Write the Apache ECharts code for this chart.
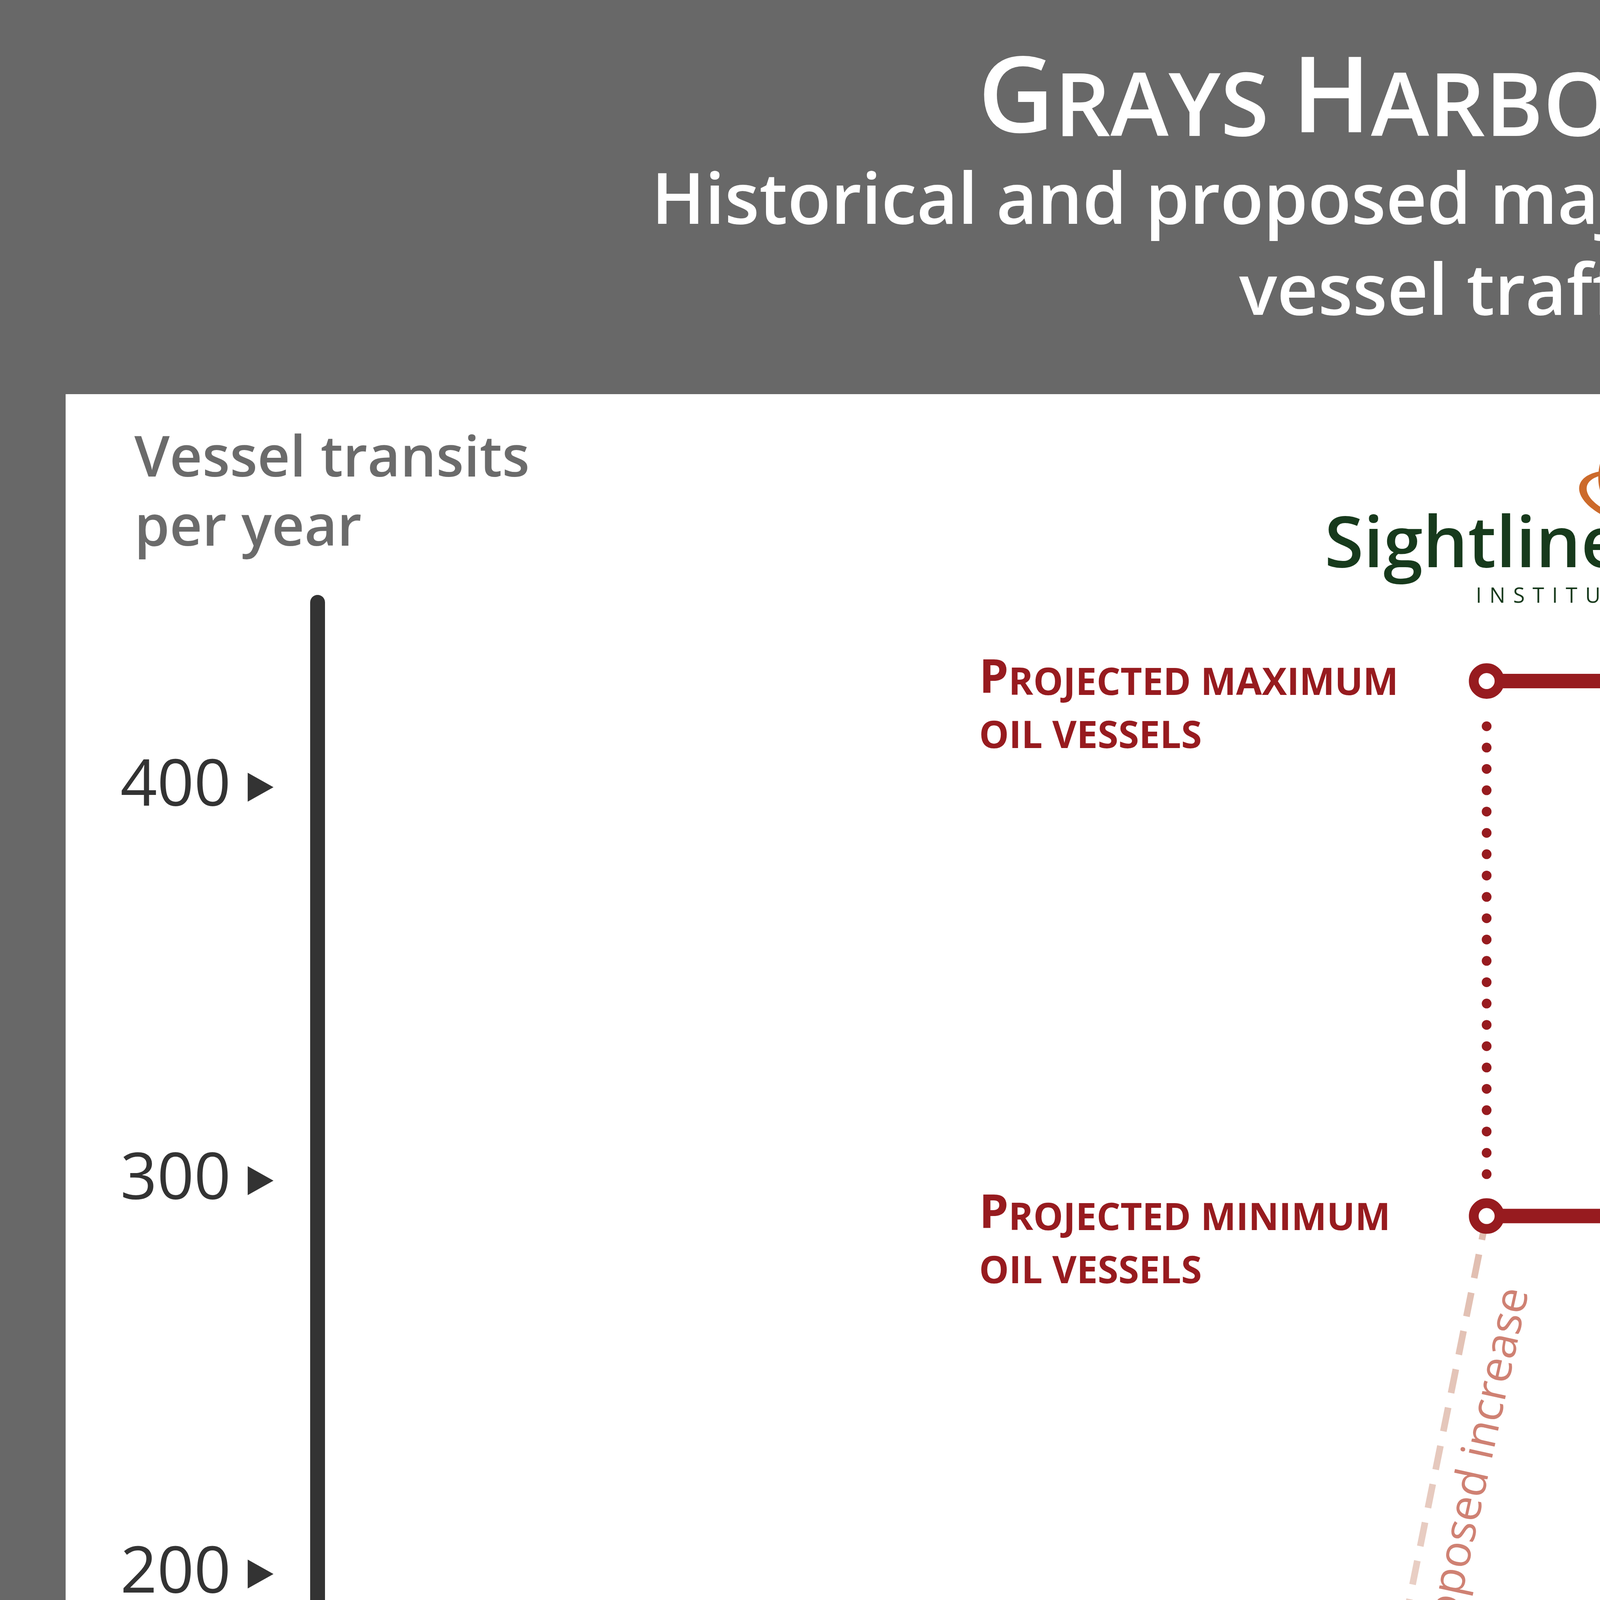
<!DOCTYPE html>
<html>
<head>
<meta charset="UTF-8">
<title>Grays Harbor vessel traffic</title>
<script src="https://cdn.jsdelivr.net/npm/echarts@6/dist/echarts.min.js"></script>
<style>
  html, body { margin: 0; padding: 0; background: #686868; }
  #chart { width: 4583px; height: 6922px; }
</style>
</head>
<body>
<div id="chart"></div>
<script type="text/javascript">

  // values
  var years = [2000, 2001, 2002, 2003, 2004, 2005, 2006, 2007, 2008, 2009, 2010, 2011, 2012, 2013];
  var allVessels = [55, 41.5, 49, 30, 45.3, 54.8, 31.8, 41.1, 46, 45.4, 65, 69.9, 80.1, 101.4];
  var oilYears = [2007, 2008, 2009, 2010, 2011, 2012, 2013];
  var oilVessels = [21.5, 8, 4, 0, 7, 1.5, 16];
  var projYear = 2016;
  var projValues = [427, 291];            // maximum, minimum
  var projLabels = [['Projected maximum', 'oil vessels'], ['Projected minimum', 'oil vessels']];
  var arrowTipYear = 2018.1;
  var xTicks = [2000, 2005, 2010, 2015];
  var yTicks = [100, 200, 300, 400];

  var FONT = "'Open Sans', 'Noto Sans', sans-serif";
  var K = 0.32;   // canvas 'middle' baseline offset, in em
  var RED = '#971b1f', TEAL = '#2d5654', OIL = '#9b1c20';

  var xMin = 1999.876, xMax = 2018, yMin = -1.8, yMax = 447;

  var chart = echarts.init(document.getElementById('chart'));

  function pairs(xs, ys) {
    return xs.map(function (x, i) { return [x, ys[i]]; });
  }

  var series = [
    // proposed increase, dashed and fading out
    {
      type: 'line', silent: true, symbol: 'none', z: 1,
      data: [[projYear, projValues[1]], [oilYears[oilYears.length - 1], oilVessels[oilVessels.length - 1]]],
      lineStyle: {
        width: 17, type: [62, 38],
        color: { type: 'linear', x: 0, y: 0, x2: 0, y2: 1, colorStops: [
          { offset: 0, color: 'rgba(224,188,174,1)' },
          { offset: 0.55, color: 'rgba(224,188,174,0.55)' },
          { offset: 1, color: 'rgba(224,188,174,0)' }
        ] }
      }
    },
    {
      type: 'line', silent: true, symbol: 'none',
      data: pairs(years, allVessels),
      lineStyle: { width: 40, color: TEAL, cap: 'round', join: 'round' }
    },
    {
      type: 'line', silent: true, symbol: 'none',
      data: pairs(oilYears, oilVessels),
      lineStyle: { width: 40, color: OIL, cap: 'round', join: 'round' }
    },
    // dotted range between max and min
    {
      type: 'line', silent: true, symbol: 'none',
      data: [[projYear, projValues[0] - 11.5], [projYear, projValues[1] + 10]],
      lineStyle: { width: 25, color: RED, type: [0, 54.6], cap: 'round' }
    }
  ];

  projValues.forEach(function (v) {
    series.push({
      type: 'line', silent: true, symbol: 'none',
      data: [[projYear, v], [arrowTipYear - 0.4, v]],
      lineStyle: { width: 37, color: RED, cap: 'butt' }
    });
  });

  series.push({
    type: 'scatter', silent: true, clip: false, z: 5,
    data: projValues.map(function (v) { return [projYear, v]; }),
    symbol: 'circle', symbolSize: 66,
    itemStyle: { color: '#fff', borderColor: RED, borderWidth: 25, opacity: 1 }
  });
  series.push({
    type: 'scatter', silent: true, clip: false, z: 5,
    data: projValues.map(function (v) { return [arrowTipYear - 0.229, v]; }),
    symbol: 'triangle', symbolRotate: -90, symbolSize: [100, 85],
    itemStyle: { color: RED, opacity: 1 }
  });
  // tick markers
  series.push({
    type: 'scatter', silent: true, clip: false,
    data: xTicks.map(function (y) { return [y, -19.8]; }),
    symbol: 'triangle', symbolSize: [95, 84],
    itemStyle: { color: '#000', opacity: 1 }
  });
  series.push({
    type: 'scatter', silent: true, clip: false,
    data: yTicks.map(function (v) { return [1999.09, v]; }),
    symbol: 'triangle', symbolRotate: -90, symbolSize: [74, 66],
    itemStyle: { color: '#333', opacity: 1 }
  });

  var option = {
    backgroundColor: '#686868',
    animation: false,
    grid: { left: 813, right: 406, top: 1542, bottom: 860, containLabel: false, outerBoundsMode: 'none' },
    xAxis: {
      type: 'value', min: xMin, max: xMax, z: 3,
      axisLine: { show: true, onZero: false, lineStyle: { color: '#333', width: 36, cap: 'square' } },
      axisTick: { show: false },
      splitLine: { show: false },
      axisLabel: {
        customValues: xTicks, margin: 279, fontSize: 135, fontWeight: 600, fontFamily: FONT, color: '#000',
        formatter: function (v) { return String(v); }
      }
    },
    yAxis: {
      type: 'value', min: yMin, max: yMax, z: 3,
      axisLine: { show: true, onZero: false, lineStyle: { color: '#333', width: 38, cap: 'round' } },
      axisTick: { show: false },
      splitLine: { show: false },
      axisLabel: {
        customValues: yTicks, margin: 222, fontSize: 165, fontWeight: 500, fontFamily: FONT, color: '#333',
        formatter: function (v) { return String(v); }
      }
    },
    series: series
  };
  chart.setOption(option);

  // ---------- annotations ----------
  function txt(x, base, s, fs, o) {
    o = o || {};
    return {
      type: 'text', x: x, y: base - K * fs, z: 20, silent: true,
      rotation: (o.rot || 0) * Math.PI / 180,
      style: {
        text: s, fontSize: fs, fontFamily: FONT, fontWeight: o.weight || 'normal',
        fill: o.color || '#000', align: o.align || 'left', verticalAlign: 'middle'
      }
    };
  }

  // small caps: capitals at big size, the rest upper-cased at small size
  function caps(x, base, str, big, small, color, weight, align) {
    var out = '', cur = null, buf = '';
    for (var i = 0; i < str.length; i++) {
      var c = str[i];
      var kind = (c >= 'A' && c <= 'Z') ? 'B' : 'S';
      if (kind !== cur && buf) { out += '{' + cur + '|' + buf + '}'; buf = ''; }
      cur = kind;
      buf += c.toUpperCase();
    }
    if (buf) out += '{' + cur + '|' + buf + '}';
    var common = { fontFamily: FONT, fontWeight: weight, fill: color, verticalAlign: 'bottom' };
    return {
      type: 'text', x: x, y: base - K * big, z: 20, silent: true,
      style: {
        text: out, fontSize: big, fontFamily: FONT, fontWeight: weight, fill: color,
        align: align, verticalAlign: 'middle',
        rich: {
          B: Object.assign({ fontSize: big, lineHeight: big }, common),
          S: Object.assign({ fontSize: small, lineHeight: big - 2 * K * (big - small) }, common)
        }
      }
    };
  }

  function charAt(c, x, y, rot, fs, color) {
    return {
      type: 'text', x: x, y: y, z: 20, silent: true, rotation: rot * Math.PI / 180,
      style: { text: c, fontSize: fs, fontFamily: FONT, fontWeight: 500, fill: color, align: 'center', verticalAlign: 'middle' }
    };
  }

  function ellPt(e, t) {
    var r = e.rot * Math.PI / 180, x = e.a * Math.cos(t), y = e.b * Math.sin(t);
    return [e.cx + x * Math.cos(r) - y * Math.sin(r), e.cy + x * Math.sin(r) + y * Math.cos(r)];
  }
  function ring(o, inn) {
    var pts = [], n = 160, k;
    for (k = 0; k <= n; k++) pts.push(ellPt(o, 2 * Math.PI * k / n));
    for (k = n; k >= 0; k--) pts.push(ellPt(inn, 2 * Math.PI * k / n));
    return { type: 'polygon', z: 20, silent: true, shape: { points: pts }, style: { fill: '#cc6a2b' } };
  }

  var g = [];
  g.push({ type: 'rect', z: -1, silent: true, shape: { x: 168, y: 1009, width: 4248, height: 5746 }, style: { fill: '#fff' } });

  // title
  g.push(caps(4333, 348, 'Grays Harbor:', 270, 225, '#fff', 600, 'right'));
  g.push(txt(4333, 579, 'Historical and proposed major', 182, { weight: 600, color: '#fff', align: 'right' }));
  g.push(txt(4333, 812, 'vessel traffic.', 182, { weight: 600, color: '#fff', align: 'right' }));

  // axis title
  g.push(txt(344, 1225, 'Vessel transits', 145, { weight: 600, color: '#6b6b6b' }));
  g.push(txt(344, 1402, 'per year', 145, { weight: 600, color: '#6b6b6b' }));

  // logo
  g.push(ring({ cx: 4175, cy: 1277, a: 136, b: 66, rot: 15 }, { cx: 4167, cy: 1272, a: 108, b: 52, rot: 15 }));
  g.push(ring({ cx: 4140, cy: 1206, a: 84, b: 47, rot: -80.5 }, { cx: 4139, cy: 1214, a: 65, b: 37, rot: -80.5 }));
  g.push(txt(4152, 1458, 'Sightline', 182, { weight: 600, color: '#173a1c', align: 'right' }));
  var inst = 'INSTITUTE'.split('').map(function (c) { return '{s|' + c + '}'; }).join('');
  g.push({
    type: 'text', x: 3778, y: 1545 - K * 54, z: 20, silent: true,
    style: {
      text: inst, fontSize: 54, fontFamily: FONT, fill: '#173a1c', align: 'left', verticalAlign: 'middle',
      rich: { s: { fontSize: 54, fontFamily: FONT, fill: '#173a1c', padding: [0, 20, 0, 0] } }
    }
  });

  // projection labels, placed from the projected values
  projValues.forEach(function (v, i) {
    var p = chart.convertToPixel({ gridIndex: 0 }, [2009, v]);
    g.push(caps(p[0], p[1] + 35, projLabels[i][0], 120, 96, RED, 700, 'left'));
    g.push(caps(p[0], p[1] + 175, projLabels[i][1], 96, 96, RED, 700, 'left'));
  });

  // curved series labels
  var allWord = [['v', 2496, 5429, 47], ['e', 2558, 5383, 42], ['s', 2602, 5334, 33], ['s', 2646, 5290, 25],
                 ['e', 2715, 5267, 15], ['l', 2766, 5249, 15], ['s', 2818, 5240, 12]];
  g.push(txt(2261, 5514, 'All', 143, { color: TEAL, rot: 1, weight: 500 }));
  allWord.forEach(function (c) { g.push(charAt(c[0], c[1], c[2], c[3], 143, TEAL)); });

  var oilWord = [['O', 2268, 5805, -35], ['i', 2327, 5854, -32], ['l', 2365, 5867, -15],
                 ['v', 2462, 5894, -15], ['e', 2523, 5917, -13], ['s', 2587, 5933, -10], ['s', 2647, 5950, -5],
                 ['e', 2732, 5940, 25], ['l', 2778, 5913, 25], ['s', 2825, 5896, 27]];
  oilWord.forEach(function (c) { g.push(charAt(c[0], c[1], c[2], c[3], 140, '#b0262f')); });

  g.push(charAt('Proposed increase', 3776, 3780, 77.6, 114, '#cf8173'));

  chart.setOption({ graphic: { elements: g } });

</script>
</body>
</html>
